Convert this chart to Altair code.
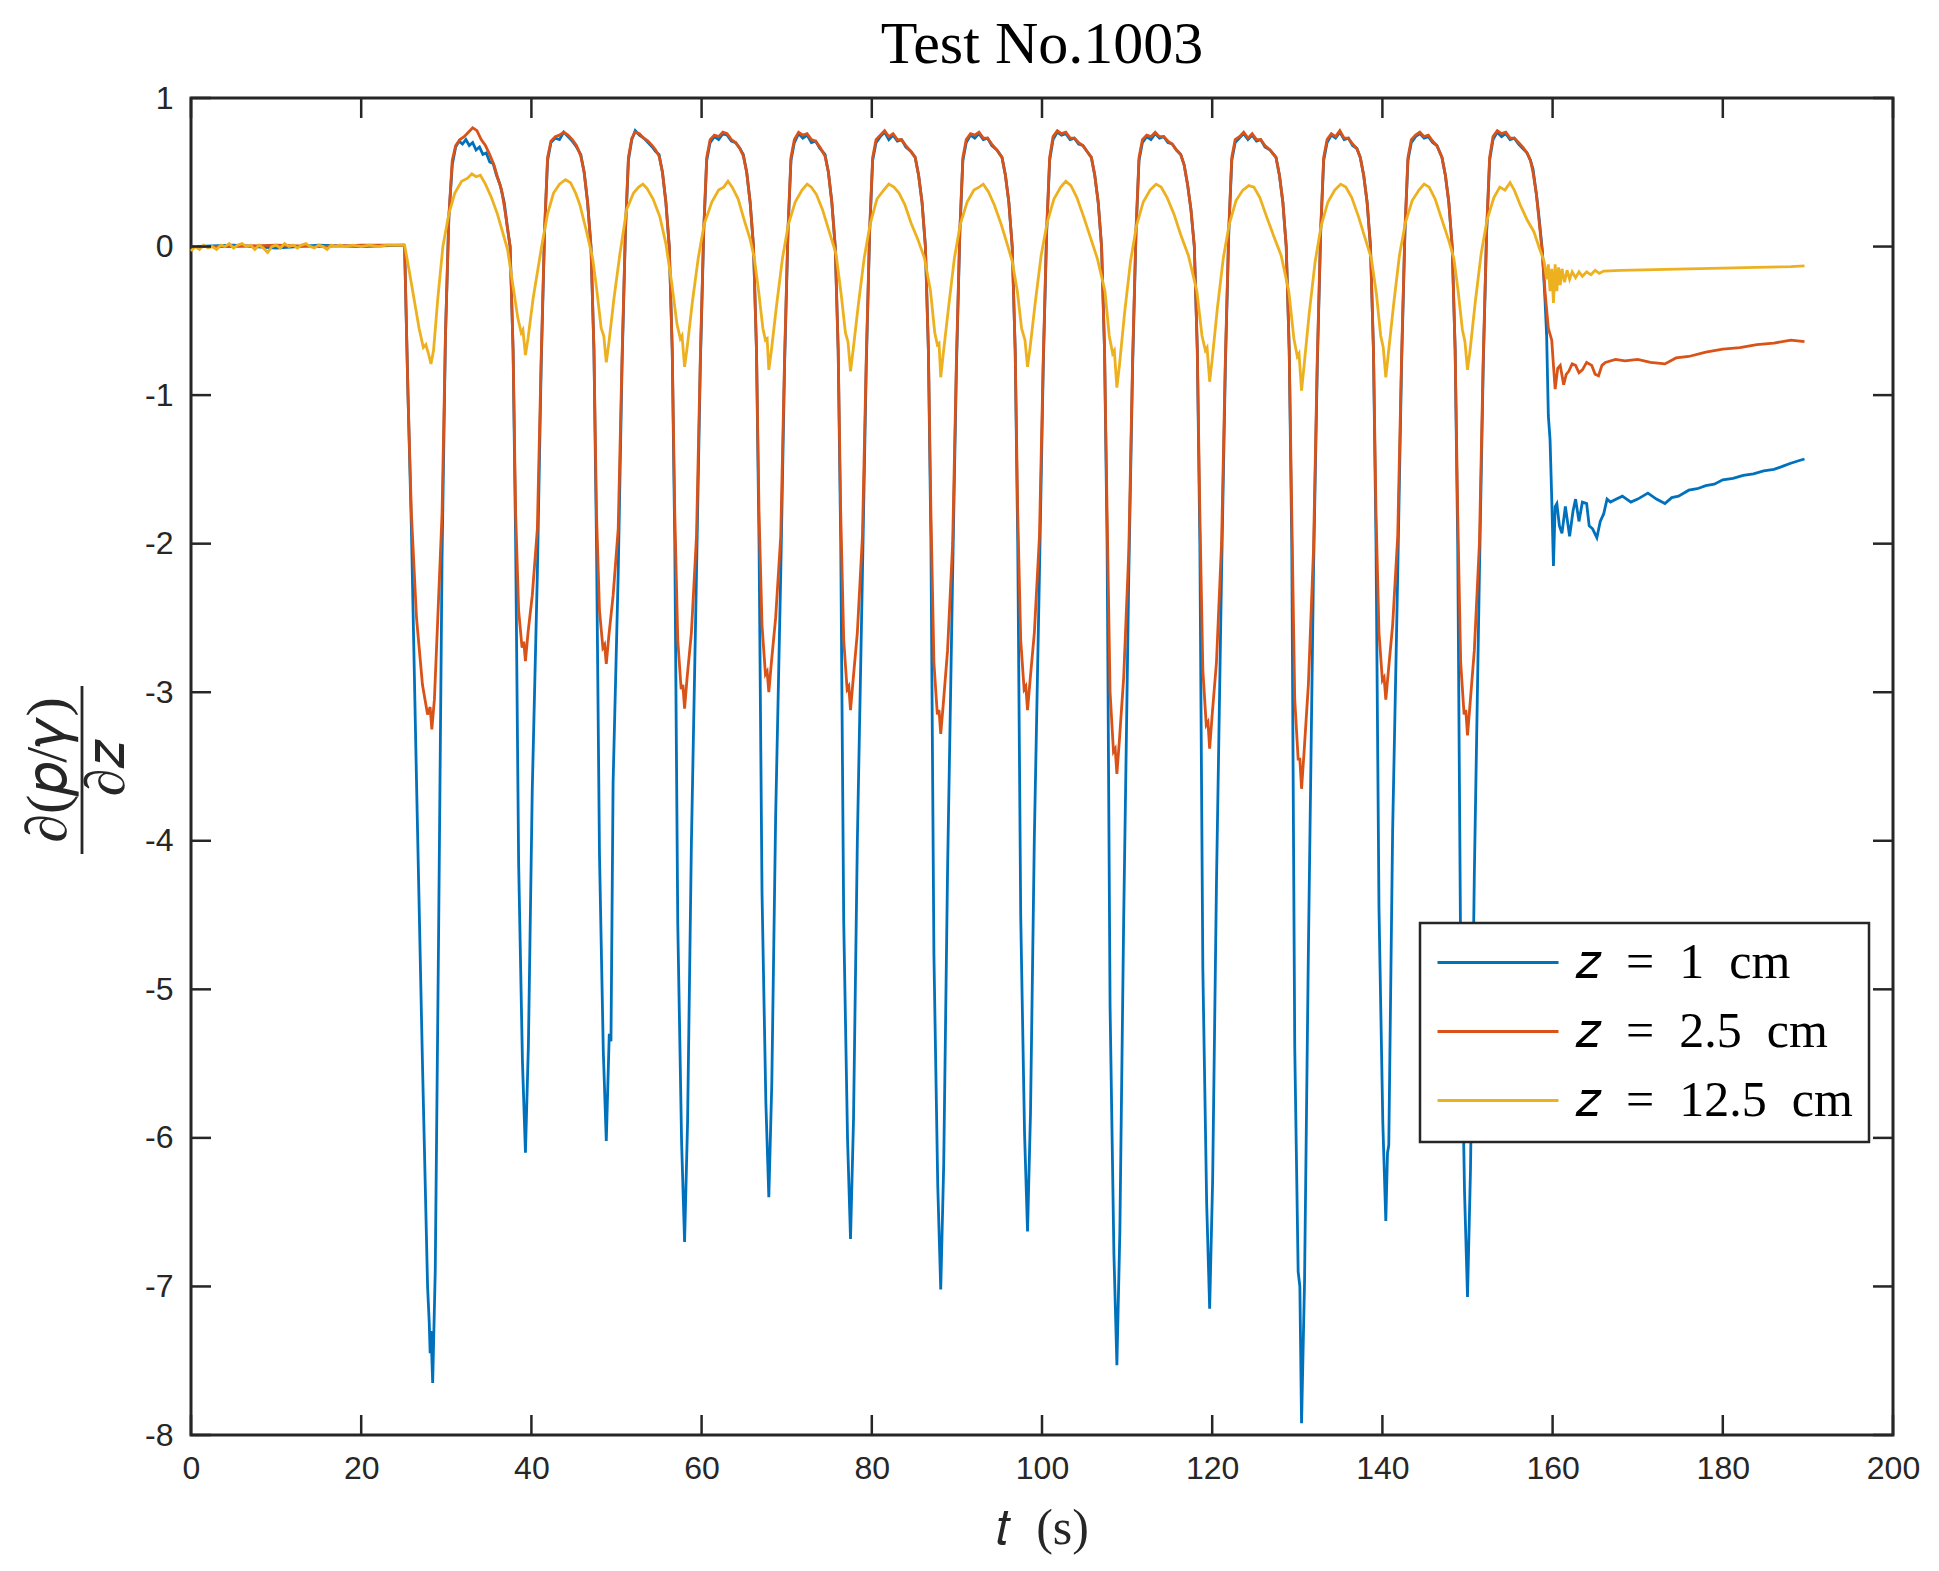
import altair as alt
import pandas as pd

# ---------------- data ----------------
x_ticks = [0, 20, 40, 60, 80, 100, 120, 140, 160, 180, 200]
y_ticks = [-8, -7, -6, -5, -4, -3, -2, -1, 0, 1]

series_names = ["𝑧\u2002=\u20021\u2002cm", "𝑧\u2002=\u20022.5\u2002cm", "𝑧\u2002=\u200212.5\u2002cm"]
series_colors = ["#0072BD", "#D95319", "#EDB120"]

chart_title = "Test No.1003"
x_title = "𝑡\u2002(s)"
y_title_num = "∂(𝑝/𝛾)"
y_title_den = "∂𝑧"

# z = 1 cm
blue_pts = [
    (0, 0.0), (5, 0.01), (10, -0.01), (15, 0.01), (20, 0.0), (25.0, 0.01),
    (25.1, 0.0), (25.5, -1.0), (25.9, -1.9), (26.5, -3.6), (27.2, -5.5), (27.8, -7.0), (28.0, -7.25),
    (28.1, -7.45), (28.2, -7.3), (28.4, -7.65), (28.7, -6.9), (29.1, -4.6), (29.5, -2.1), (29.9, -0.6),
    (30.3, 0.2), (30.7, 0.55), (31.1, 0.67), (31.5, 0.71), (31.9, 0.69), (32.3, 0.72), (32.7, 0.68),
    (33.1, 0.70), (33.5, 0.65), (33.9, 0.67), (34.3, 0.62), (34.7, 0.63), (35.1, 0.57), (35.5, 0.56),
    (35.9, 0.48), (36.3, 0.42), (36.8, 0.30), (37.2, 0.12),
    (37.5, 0.0), (37.85, -0.7), (38.15, -2.0), (38.5, -4.15), (38.95, -5.49), (39.3, -6.10), (39.65, -5.37),
    (40.1, -3.66), (40.7, -2.2), (41.15, -0.8), (41.55, 0.1), (41.9, 0.58), (42.3, 0.70), (42.8, 0.73),
    (43.3, 0.72), (43.8, 0.77), (44.3, 0.74), (44.8, 0.71), (45.2, 0.68), (45.8, 0.62), (46.2, 0.50), (46.6, 0.30),
    (47.0, 0.0), (47.35, -0.7), (47.65, -2.0), (48.0, -4.09), (48.45, -5.42), (48.8, -6.02), (49.15, -5.30),
    (49.35, -5.35), (49.6, -3.61), (50.2, -2.2), (50.65, -0.8), (51.05, 0.1), (51.4, 0.58), (51.8, 0.72),
    (52.2, 0.78), (52.7, 0.75), (53.2, 0.73), (53.7, 0.70), (54.2, 0.67), (54.6, 0.64), (55.0, 0.62),
    (55.4, 0.50), (55.8, 0.30),
    (56.2, 0.0), (56.55, -0.7), (56.85, -2.0), (57.2, -4.56), (57.65, -6.03), (58.0, -6.70), (58.35, -5.90),
    (58.8, -4.02), (59.4, -2.2), (59.85, -0.8), (60.25, 0.1), (60.6, 0.58), (61.0, 0.70), (61.5, 0.74),
    (62.0, 0.72), (62.5, 0.76), (63.0, 0.75), (63.5, 0.71), (64.0, 0.70), (64.5, 0.66), (64.9, 0.62),
    (65.3, 0.50), (65.7, 0.30),
    (66.1, 0.0), (66.45, -0.7), (66.75, -2.0), (67.1, -4.35), (67.55, -5.76), (67.9, -6.40), (68.25, -5.63),
    (68.7, -3.84), (69.3, -2.2), (69.75, -0.8), (70.15, 0.1), (70.5, 0.58), (70.9, 0.70), (71.4, 0.76),
    (71.9, 0.73), (72.4, 0.75), (72.9, 0.70), (73.4, 0.71), (73.9, 0.66), (74.5, 0.62), (74.9, 0.50), (75.3, 0.30),
    (75.7, 0.0), (76.05, -0.7), (76.35, -2.0), (76.7, -4.54), (77.15, -6.01), (77.5, -6.68), (77.85, -5.88),
    (78.3, -4.01), (78.9, -2.2), (79.35, -0.8), (79.75, 0.1), (80.1, 0.58), (80.5, 0.70), (81.0, 0.74),
    (81.5, 0.77), (82.0, 0.72), (82.5, 0.75), (83.0, 0.71), (83.5, 0.72), (84.0, 0.67), (84.6, 0.64),
    (85.1, 0.60), (85.5, 0.48), (85.9, 0.30),
    (86.3, 0.0), (86.65, -0.7), (86.95, -2.0), (87.3, -4.77), (87.75, -6.32), (88.1, -7.02), (88.45, -6.18),
    (88.9, -4.21), (89.5, -2.2), (89.95, -0.8), (90.35, 0.1), (90.7, 0.58), (91.1, 0.70), (91.6, 0.75),
    (92.1, 0.73), (92.6, 0.76), (93.1, 0.72), (93.6, 0.73), (94.1, 0.68), (94.7, 0.65), (95.3, 0.60),
    (95.7, 0.48), (96.1, 0.30),
    (96.5, 0.0), (96.85, -0.7), (97.15, -2.0), (97.5, -4.51), (97.95, -5.97), (98.3, -6.63), (98.65, -5.83),
    (99.1, -3.98), (99.7, -2.2), (100.15, -0.8), (100.55, 0.1), (100.9, 0.58), (101.3, 0.72), (101.8, 0.77),
    (102.3, 0.75), (102.8, 0.76), (103.3, 0.72), (103.8, 0.73), (104.3, 0.69), (104.8, 0.68), (105.3, 0.64),
    (105.8, 0.60), (106.2, 0.48), (106.6, 0.30),
    (107.0, 0.0), (107.35, -0.7), (107.65, -2.0), (108.0, -5.12), (108.45, -6.78), (108.8, -7.53),
    (109.15, -6.63), (109.6, -4.52), (110.2, -2.2), (110.65, -0.8), (111.05, 0.1), (111.4, 0.58), (111.8, 0.70),
    (112.3, 0.74), (112.8, 0.72), (113.3, 0.76), (113.8, 0.73), (114.3, 0.74), (114.8, 0.70), (115.3, 0.69),
    (115.8, 0.65), (116.3, 0.62), (116.7, 0.55), (117.1, 0.42), (117.5, 0.25),
    (117.9, 0.0), (118.25, -0.7), (118.55, -2.0), (118.9, -4.86), (119.35, -6.44), (119.7, -7.15),
    (120.05, -6.29), (120.5, -4.29), (121.1, -2.2), (121.55, -0.8), (121.95, 0.1), (122.3, 0.58), (122.7, 0.70),
    (123.2, 0.73), (123.7, 0.76), (124.2, 0.72), (124.7, 0.75), (125.2, 0.71), (125.7, 0.72), (126.2, 0.67),
    (126.8, 0.65), (127.5, 0.60), (127.9, 0.48), (128.3, 0.30),
    (128.7, 0.0), (129.05, -0.7), (129.35, -2.0), (129.7, -5.39), (130.1, -6.9), (130.3, -7.0), (130.5, -7.92),
    (130.85, -6.97), (131.3, -4.75), (131.9, -2.2), (132.35, -0.8), (132.75, 0.1), (133.1, 0.58), (133.5, 0.70),
    (134.0, 0.75), (134.5, 0.73), (135.0, 0.77), (135.5, 0.72), (136.0, 0.73), (136.5, 0.68), (137.0, 0.66),
    (137.4, 0.60), (137.8, 0.48), (138.2, 0.30),
    (138.6, 0.0), (138.95, -0.7), (139.25, -2.0), (139.6, -4.46), (140.05, -5.90), (140.4, -6.56),
    (140.6, -6.1), (140.75, -6.05), (141.2, -3.94), (141.8, -2.2), (142.25, -0.8), (142.65, 0.1), (143.0, 0.58),
    (143.4, 0.70), (143.9, 0.74), (144.4, 0.76), (144.9, 0.73), (145.4, 0.74), (145.9, 0.70), (146.4, 0.68),
    (147.0, 0.60), (147.4, 0.48), (147.8, 0.30),
    (148.2, 0.0), (148.55, -0.7), (148.85, -2.0), (149.2, -4.81), (149.65, -6.36), (150.0, -7.07),
    (150.35, -6.22), (150.8, -4.24), (151.4, -2.2), (151.85, -0.8), (152.25, 0.1), (152.6, 0.58), (153.0, 0.72),
    (153.5, 0.77), (154.0, 0.74), (154.5, 0.76), (155.0, 0.72), (155.5, 0.73), (156.0, 0.69), (156.5, 0.66),
    (157.0, 0.63), (157.4, 0.58), (157.7, 0.52), (158.1, 0.35), (158.4, 0.20), (158.8, -0.03), (159.1, -0.35),
    (159.3, -0.6), (159.5, -1.14), (159.7, -1.3), (159.9, -1.7), (160.1, -2.15), (160.3, -1.75), (160.5, -1.73),
    (160.8, -1.88), (161.1, -1.93), (161.5, -1.75), (162.0, -1.95), (162.4, -1.78), (162.7, -1.70),
    (163.1, -1.85), (163.5, -1.72), (164.0, -1.73), (164.3, -1.88), (164.7, -1.90), (165.2, -1.96),
    (165.6, -1.85), (166.0, -1.80), (166.4, -1.70), (166.8, -1.72), (167.5, -1.70), (168.2, -1.68),
    (169.2, -1.72), (170.0, -1.70), (171.2, -1.66), (172.2, -1.70), (173.2, -1.73), (174.0, -1.69),
    (174.8, -1.68), (176.0, -1.64), (177.0, -1.63), (178.0, -1.61), (179.0, -1.60), (180.0, -1.57),
    (181.2, -1.56), (182.4, -1.54), (183.6, -1.53), (184.8, -1.51), (186.0, -1.50), (187.0, -1.48),
    (187.9, -1.46), (189.0, -1.44), (189.6, -1.43),
]

# z = 2.5 cm
red_pts = [
    (0, 0.0), (5, 0.0), (10, 0.01), (15, 0.0), (20, 0.01), (25.0, 0.01),
    (25.1, 0.0), (25.5, -1.0), (25.9, -1.8), (26.5, -2.5), (27.2, -2.95), (27.8, -3.15), (28.1, -3.1),
    (28.3, -3.25), (28.6, -3.05), (29.0, -2.5), (29.5, -1.8), (29.9, -0.6), (30.3, 0.2), (30.7, 0.58),
    (31.1, 0.68), (31.6, 0.72), (32.1, 0.74), (32.6, 0.77), (33.1, 0.80), (33.6, 0.78), (34.1, 0.72),
    (34.6, 0.68), (35.1, 0.62), (35.6, 0.55), (36.0, 0.47), (36.5, 0.38), (36.9, 0.24), (37.3, 0.08),
    (37.5, 0.0), (37.85, -0.7), (38.15, -1.8), (38.5, -2.45), (38.9, -2.7), (39.1, -2.66), (39.3, -2.79),
    (39.6, -2.6), (40.1, -2.35), (40.7, -1.9), (41.15, -0.75), (41.55, 0.12), (41.9, 0.6), (42.3, 0.71),
    (42.8, 0.74), (43.3, 0.75), (43.8, 0.77), (44.3, 0.75), (44.8, 0.72), (45.3, 0.68), (45.8, 0.61),
    (46.2, 0.50), (46.6, 0.30),
    (47.0, 0.0), (47.35, -0.7), (47.65, -1.8), (48.0, -2.45), (48.4, -2.7), (48.6, -2.68), (48.8, -2.81),
    (49.1, -2.62), (49.6, -2.35), (50.2, -1.9), (50.65, -0.75), (51.05, 0.12), (51.4, 0.6), (51.8, 0.73),
    (52.2, 0.77), (52.7, 0.76), (53.2, 0.73), (53.7, 0.71), (54.2, 0.68), (54.6, 0.65), (55.0, 0.61),
    (55.4, 0.50), (55.8, 0.30),
    (56.2, 0.0), (56.55, -0.7), (56.85, -1.8), (57.2, -2.65), (57.6, -2.98), (57.8, -2.95), (58.0, -3.11),
    (58.3, -2.9), (58.8, -2.6), (59.4, -1.95), (59.85, -0.75), (60.25, 0.12), (60.6, 0.6), (61.0, 0.72),
    (61.5, 0.75), (62.0, 0.74), (62.5, 0.77), (63.0, 0.76), (63.5, 0.72), (64.0, 0.70), (64.5, 0.66),
    (64.9, 0.61), (65.3, 0.50), (65.7, 0.30),
    (66.1, 0.0), (66.45, -0.7), (66.75, -1.8), (67.1, -2.55), (67.5, -2.88), (67.7, -2.86), (67.9, -3.00),
    (68.2, -2.8), (68.7, -2.5), (69.3, -1.95), (69.75, -0.75), (70.15, 0.12), (70.5, 0.6), (70.9, 0.72),
    (71.4, 0.77), (71.9, 0.75), (72.4, 0.76), (72.9, 0.72), (73.4, 0.71), (73.9, 0.67), (74.5, 0.61),
    (74.9, 0.50), (75.3, 0.30),
    (75.7, 0.0), (76.05, -0.7), (76.35, -1.8), (76.7, -2.65), (77.1, -2.98), (77.3, -2.96), (77.5, -3.12),
    (77.8, -2.92), (78.3, -2.6), (78.9, -1.95), (79.35, -0.75), (79.75, 0.12), (80.1, 0.6), (80.5, 0.72),
    (81.0, 0.75), (81.5, 0.78), (82.0, 0.74), (82.5, 0.76), (83.0, 0.72), (83.5, 0.72), (84.0, 0.68),
    (84.6, 0.64), (85.1, 0.60), (85.5, 0.48), (85.9, 0.30),
    (86.3, 0.0), (86.65, -0.7), (86.95, -1.8), (87.3, -2.8), (87.7, -3.15), (87.9, -3.12), (88.1, -3.28),
    (88.4, -3.08), (88.9, -2.72), (89.5, -2.0), (89.95, -0.75), (90.35, 0.12), (90.7, 0.6), (91.1, 0.72),
    (91.6, 0.76), (92.1, 0.75), (92.6, 0.77), (93.1, 0.73), (93.6, 0.73), (94.1, 0.69), (94.7, 0.65),
    (95.3, 0.60), (95.7, 0.48), (96.1, 0.30),
    (96.5, 0.0), (96.85, -0.7), (97.15, -1.8), (97.5, -2.65), (97.9, -2.98), (98.1, -2.96), (98.3, -3.12),
    (98.6, -2.92), (99.1, -2.6), (99.7, -1.95), (100.15, -0.75), (100.55, 0.12), (100.9, 0.6), (101.3, 0.74),
    (101.8, 0.78), (102.3, 0.76), (102.8, 0.77), (103.3, 0.73), (103.8, 0.73), (104.3, 0.70), (104.8, 0.68),
    (105.3, 0.64), (105.8, 0.60), (106.2, 0.48), (106.6, 0.30),
    (107.0, 0.0), (107.35, -0.7), (107.65, -1.8), (108.0, -3.0), (108.4, -3.4), (108.6, -3.38), (108.8, -3.55),
    (109.1, -3.32), (109.6, -2.9), (110.2, -2.05), (110.65, -0.75), (111.05, 0.12), (111.4, 0.6), (111.8, 0.72),
    (112.3, 0.75), (112.8, 0.74), (113.3, 0.77), (113.8, 0.74), (114.3, 0.74), (114.8, 0.71), (115.3, 0.69),
    (115.8, 0.65), (116.3, 0.62), (116.7, 0.55), (117.1, 0.42), (117.5, 0.25),
    (117.9, 0.0), (118.25, -0.7), (118.55, -1.8), (118.9, -2.85), (119.3, -3.22), (119.5, -3.2), (119.7, -3.38),
    (120.0, -3.15), (120.5, -2.8), (121.1, -2.0), (121.55, -0.75), (121.95, 0.12), (122.3, 0.6), (122.7, 0.72),
    (123.2, 0.74), (123.7, 0.77), (124.2, 0.73), (124.7, 0.76), (125.2, 0.72), (125.7, 0.72), (126.2, 0.68),
    (126.8, 0.65), (127.5, 0.60), (127.9, 0.48), (128.3, 0.30),
    (128.7, 0.0), (129.05, -0.7), (129.35, -1.8), (129.7, -3.05), (130.1, -3.45), (130.3, -3.45), (130.5, -3.65),
    (130.8, -3.4), (131.3, -2.95), (131.9, -2.05), (132.35, -0.75), (132.75, 0.12), (133.1, 0.6), (133.5, 0.72),
    (134.0, 0.76), (134.5, 0.74), (135.0, 0.78), (135.5, 0.73), (136.0, 0.73), (136.5, 0.69), (137.0, 0.66),
    (137.4, 0.60), (137.8, 0.48), (138.2, 0.30),
    (138.6, 0.0), (138.95, -0.7), (139.25, -1.8), (139.6, -2.6), (140.0, -2.92), (140.2, -2.9), (140.4, -3.05),
    (140.7, -2.86), (141.2, -2.55), (141.8, -1.95), (142.25, -0.75), (142.65, 0.12), (143.0, 0.6), (143.4, 0.72),
    (143.9, 0.75), (144.4, 0.77), (144.9, 0.74), (145.4, 0.75), (145.9, 0.71), (146.4, 0.68), (147.0, 0.60),
    (147.4, 0.48), (147.8, 0.30),
    (148.2, 0.0), (148.55, -0.7), (148.85, -1.8), (149.2, -2.8), (149.6, -3.15), (149.8, -3.12), (150.0, -3.29),
    (150.3, -3.08), (150.8, -2.72), (151.4, -2.0), (151.85, -0.75), (152.25, 0.12), (152.6, 0.6), (153.0, 0.74),
    (153.5, 0.78), (154.0, 0.76), (154.5, 0.77), (155.0, 0.73), (155.5, 0.73), (156.0, 0.70), (156.5, 0.67),
    (157.0, 0.63), (157.4, 0.58), (157.7, 0.50), (158.1, 0.35), (158.4, 0.18), (158.8, -0.05), (159.1, -0.3),
    (159.5, -0.55), (159.9, -0.63), (160.1, -0.80), (160.3, -0.96), (160.6, -0.82), (160.9, -0.80),
    (161.3, -0.93), (161.6, -0.86), (161.9, -0.84), (162.3, -0.79), (162.7, -0.80), (163.1, -0.85),
    (163.5, -0.83), (164.0, -0.78), (164.6, -0.80), (165.0, -0.86), (165.4, -0.87), (165.8, -0.80),
    (166.2, -0.78), (167.4, -0.76), (168.5, -0.77), (170.0, -0.76), (171.5, -0.78), (173.2, -0.79),
    (174.5, -0.75), (176.0, -0.74), (178.0, -0.71), (180.0, -0.69), (182.0, -0.68), (184.0, -0.66),
    (186.0, -0.65), (188.0, -0.63), (189.6, -0.64),
]

# z = 12.5 cm
yellow_pts = [
    (0, -0.03), (0.5, 0.0), (1.0, -0.02), (1.5, 0.01), (2.0, -0.01), (2.5, 0.0), (3.0, -0.02), (3.5, 0.01),
    (4.0, 0.0), (4.5, 0.02), (5.0, -0.01), (5.5, 0.01), (6.0, 0.02), (6.5, 0.0), (7.0, 0.01), (7.5, -0.02),
    (8.0, 0.01), (8.5, -0.01), (9.0, -0.04), (9.5, 0.0), (10.0, 0.01), (10.5, -0.01), (11.0, 0.02),
    (11.5, 0.0), (12.0, 0.01), (12.5, -0.01), (13.0, 0.01), (13.5, 0.02), (14.0, 0.0), (14.5, -0.01),
    (15.0, 0.01), (15.5, 0.0), (16.0, -0.02), (16.5, 0.01), (17.0, 0.0), (17.5, 0.01), (18.0, 0.0),
    (19.0, 0.01), (20.0, 0.0), (21.0, 0.01), (22.0, 0.0), (23.0, 0.01), (24.0, 0.01), (25.0, 0.01),
    (25.1, 0.01), (25.6, -0.15), (26.2, -0.35), (26.8, -0.55), (27.3, -0.68), (27.6, -0.66), (27.9, -0.72),
    (28.2, -0.79), (28.5, -0.70), (29.0, -0.35), (29.6, 0.0), (30.3, 0.22), (31.0, 0.36), (31.8, 0.44),
    (32.5, 0.46), (33.0, 0.49), (33.5, 0.47), (34.0, 0.48), (34.6, 0.42), (35.3, 0.33), (36.0, 0.22),
    (36.6, 0.10), (37.2, -0.02),
    (37.8, -0.25), (38.4, -0.48), (38.8, -0.58), (39.0, -0.56), (39.3, -0.73), (39.6, -0.62), (40.2, -0.35),
    (41.2, 0.0), (41.9, 0.22), (42.6, 0.36), (43.3, 0.42), (44.0, 0.45), (44.6, 0.43), (45.2, 0.36),
    (45.7, 0.28), (46.4, 0.12), (47.2, -0.08),
    (47.7, -0.3), (48.2, -0.55), (48.5, -0.60), (48.8, -0.78), (49.1, -0.65), (49.7, -0.35), (50.4, -0.05),
    (51.2, 0.25), (52.0, 0.36), (52.6, 0.40), (53.1, 0.42), (53.6, 0.39), (54.3, 0.32), (55.1, 0.20),
    (55.8, 0.02),
    (56.5, -0.25), (57.1, -0.52), (57.5, -0.62), (57.7, -0.60), (58.0, -0.81), (58.3, -0.68), (58.9, -0.38),
    (59.6, -0.08), (60.3, 0.15), (61.2, 0.30), (62.0, 0.38), (62.6, 0.40), (63.1, 0.44), (63.6, 0.40),
    (64.3, 0.32), (65.0, 0.18), (65.7, 0.05), (66.2, -0.08),
    (66.7, -0.3), (67.2, -0.55), (67.5, -0.63), (67.7, -0.62), (67.9, -0.83), (68.2, -0.70), (68.8, -0.40),
    (69.5, -0.08), (70.2, 0.15), (71.0, 0.30), (71.8, 0.38), (72.4, 0.42), (72.9, 0.40), (73.5, 0.35),
    (74.2, 0.25), (75.0, 0.10), (75.8, -0.05),
    (76.4, -0.32), (76.9, -0.58), (77.2, -0.64), (77.5, -0.84), (77.8, -0.70), (78.4, -0.40), (79.1, -0.08),
    (79.8, 0.15), (80.6, 0.32), (81.4, 0.38), (82.0, 0.42), (82.6, 0.40), (83.2, 0.36), (83.9, 0.28),
    (84.6, 0.16), (85.4, 0.05), (86.2, -0.08),
    (86.9, -0.3), (87.4, -0.58), (87.7, -0.66), (87.9, -0.65), (88.1, -0.88), (88.4, -0.72), (89.0, -0.42),
    (89.7, -0.08), (90.4, 0.15), (91.2, 0.30), (92.0, 0.38), (92.6, 0.40), (93.1, 0.42), (93.7, 0.37),
    (94.4, 0.28), (95.2, 0.15), (96.0, 0.0), (96.5, -0.1),
    (97.1, -0.3), (97.6, -0.55), (98.0, -0.63), (98.3, -0.81), (98.6, -0.68), (99.2, -0.38), (99.9, -0.06),
    (100.6, 0.16), (101.4, 0.32), (102.2, 0.40), (102.8, 0.44), (103.4, 0.41), (104.1, 0.33), (104.9, 0.20),
    (105.7, 0.06), (106.5, -0.08),
    (107.4, -0.3), (107.9, -0.6), (108.3, -0.72), (108.5, -0.70), (108.8, -0.95), (109.1, -0.80),
    (109.7, -0.45), (110.4, -0.1), (111.1, 0.14), (111.9, 0.30), (112.7, 0.38), (113.4, 0.42), (114.0, 0.40),
    (114.7, 0.33), (115.5, 0.22), (116.3, 0.08), (117.2, -0.06),
    (118.2, -0.3), (118.8, -0.6), (119.2, -0.7), (119.4, -0.68), (119.7, -0.91), (120.0, -0.76),
    (120.6, -0.42), (121.3, -0.08), (122.0, 0.15), (122.8, 0.31), (123.6, 0.38), (124.3, 0.41), (124.9, 0.40),
    (125.6, 0.33), (126.4, 0.20), (127.3, 0.06), (128.1, -0.06),
    (129.0, -0.3), (129.6, -0.62), (130.0, -0.74), (130.2, -0.72), (130.5, -0.97), (130.8, -0.80),
    (131.4, -0.45), (132.1, -0.1), (132.8, 0.14), (133.6, 0.30), (134.4, 0.38), (135.1, 0.42), (135.7, 0.40),
    (136.4, 0.33), (137.2, 0.20), (138.0, 0.05), (138.7, -0.08),
    (139.3, -0.32), (139.8, -0.6), (140.1, -0.68), (140.4, -0.88), (140.7, -0.72), (141.3, -0.40),
    (142.0, -0.06), (142.7, 0.16), (143.5, 0.31), (144.3, 0.38), (144.9, 0.42), (145.5, 0.40), (146.2, 0.32),
    (147.0, 0.18), (147.8, 0.04), (148.4, -0.08),
    (148.9, -0.3), (149.4, -0.56), (149.7, -0.64), (150.0, -0.83), (150.3, -0.70), (150.9, -0.38),
    (151.6, -0.05), (152.3, 0.18), (153.1, 0.33), (153.8, 0.40), (154.4, 0.38), (155.0, 0.43), (155.5, 0.38),
    (156.2, 0.28), (157.0, 0.18), (157.8, 0.10), (158.5, -0.02),
    (159.0, -0.10), (159.3, -0.22), (159.5, -0.12), (159.7, -0.30), (159.9, -0.15), (160.1, -0.38),
    (160.3, -0.12), (160.5, -0.30), (160.7, -0.14), (160.9, -0.26), (161.1, -0.15), (161.4, -0.24),
    (161.7, -0.16), (162.0, -0.22), (162.3, -0.17), (162.7, -0.21), (163.1, -0.17), (163.5, -0.20),
    (164.0, -0.17), (164.5, -0.19), (165.0, -0.16), (165.5, -0.18), (166.0, -0.165), (168.0, -0.16),
    (172.0, -0.155), (176.0, -0.15), (180.0, -0.145), (184.0, -0.14), (188.0, -0.135), (189.6, -0.13),
]

# ---------------- layout constants ----------------
W, H = 1702, 1337
AXIS_COLOR = "#262626"
TICK_LEN = 20

x_scale = alt.Scale(domain=[0, 200], nice=False, zero=False)
y_scale = alt.Scale(domain=[-8, 1], nice=False, zero=False)
color_scale = alt.Scale(domain=series_names, range=series_colors)

x_axis = alt.Axis(values=x_ticks, labelExpr="'' + datum.value", title=x_title, grid=False, domain=False,
                  ticks=False, tickSize=0, labelFont="Liberation Sans", labelFontSize=32,
                  labelColor=AXIS_COLOR, labelPadding=18, labelFlush=False, labelOverlap=False,
                  titleFont="Liberation Serif", titleFontSize=50, titleFontWeight="normal",
                  titleColor=AXIS_COLOR, titleBaseline="alphabetic", titleY=108)
y_axis = alt.Axis(values=y_ticks, labelExpr="'' + datum.value", title=None, grid=False, domain=False,
                  ticks=False, tickSize=0, labelFont="Liberation Sans", labelFontSize=32,
                  labelColor=AXIS_COLOR, labelPadding=18, labelFlush=False, labelOverlap=False)

legend = alt.Legend(title=None, orient="none", legendX=1229, legendY=825,
                    fillColor="white", strokeColor=AXIS_COLOR, padding=16,
                    symbolType="stroke", symbolSize=14641, symbolStrokeWidth=2.8,
                    labelFont="Liberation Serif", labelFontSize=50, labelColor="black",
                    labelOffset=15, labelLimit=500, clipHeight=47, rowPadding=18)


def series_layer(pts, name):
    df = pd.DataFrame({"t": [p[0] for p in pts], "v": [p[1] for p in pts], "series": name})
    return alt.Chart(df).mark_line(strokeWidth=2.8).encode(
        x=alt.X("t:Q", scale=x_scale, axis=x_axis),
        y=alt.Y("v:Q", scale=y_scale, axis=y_axis),
        color=alt.Color("series:N", scale=color_scale, legend=legend),
        order=alt.Order("t:Q"),
    )


lines = [series_layer(pts, name) for pts, name in
         zip([blue_pts, red_pts, yellow_pts], series_names)]

xt = pd.DataFrame({"t": x_ticks})
yt = pd.DataFrame({"v": y_ticks})
tick_style = dict(color=AXIS_COLOR, strokeWidth=2.5)

ticks_bottom = alt.Chart(xt).mark_rule(**tick_style).encode(
    x=alt.X("t:Q", scale=x_scale, axis=x_axis), y=alt.value(H), y2=alt.value(H - TICK_LEN))
ticks_top = alt.Chart(xt).mark_rule(**tick_style).encode(
    x=alt.X("t:Q", scale=x_scale, axis=x_axis), y=alt.value(0), y2=alt.value(TICK_LEN))
ticks_left = alt.Chart(yt).mark_rule(**tick_style).encode(
    y=alt.Y("v:Q", scale=y_scale, axis=y_axis), x=alt.value(0), x2=alt.value(TICK_LEN))
ticks_right = alt.Chart(yt).mark_rule(**tick_style).encode(
    y=alt.Y("v:Q", scale=y_scale, axis=y_axis), x=alt.value(W), x2=alt.value(W - TICK_LEN))

one = pd.DataFrame({"k": [0]})
title_mark = alt.Chart(one).mark_text(font="Liberation Serif", fontSize=60, align="center",
                                      baseline="alphabetic", color="black").encode(
    x=alt.value(W / 2), y=alt.value(-35), text=alt.value(chart_title))
y_num = alt.Chart(one).mark_text(font="Liberation Serif", fontSize=58, angle=270, align="center",
                                 baseline="middle", color=AXIS_COLOR).encode(
    x=alt.value(-142), y=alt.value(672), text=alt.value(y_title_num))
y_den = alt.Chart(one).mark_text(font="Liberation Serif", fontSize=56, angle=270, align="center",
                                 baseline="middle", color=AXIS_COLOR).encode(
    x=alt.value(-84), y=alt.value(670), text=alt.value(y_title_den))
y_bar = alt.Chart(one).mark_rule(color=AXIS_COLOR, strokeWidth=2.8).encode(
    x=alt.value(-109), y=alt.value(588), y2=alt.value(756))

chart = alt.layer(
    *lines, ticks_bottom, ticks_top, ticks_left, ticks_right, title_mark, y_num, y_den, y_bar
).properties(
    width=W, height=H,
    background="white",
    autosize=alt.AutoSizeParams(type="none"),
    padding={"left": 183, "top": 90, "right": 30, "bottom": 128},
).configure_view(
    stroke=AXIS_COLOR, strokeWidth=3, strokeOpacity=1
).configure_legend(
    strokeWidth=2.5
)

chart.save("out.html", embed_options={"renderer": "svg", "actions": False})
